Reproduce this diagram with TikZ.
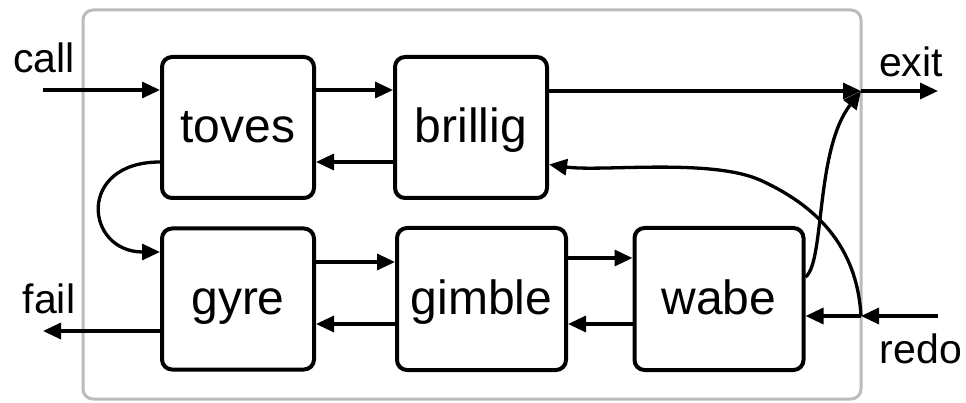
\documentclass[tikz,border=0pt]{standalone}
\usepackage{fontspec}
\setmainfont{Liberation Sans}
\usetikzlibrary{arrows.meta}

\definecolor{framegray}{RGB}{187,187,187}

\tikzset{
  port/.style={line width=3.3pt,-{Triangle[length=18pt,width=16pt]}},
  stage/.style={draw,line width=4pt,rounded corners=10pt,inner sep=0pt,outer sep=2pt,
    minimum width=152pt,minimum height=141pt,
    font=\fontsize{48}{56}\selectfont,text height=30pt,text depth=0pt},
  widestage/.style={stage,minimum width=169pt,minimum height=142pt},
  tag/.style={font=\fontsize{41}{48}\selectfont,anchor=base},
  frame/.style={draw=framegray,line width=3pt,rounded corners=10pt},
}

\begin{document}
\begin{tikzpicture}[x=1pt,y=-1pt]
\useasboundingbox (0,0) rectangle (966,403);

% outer frame:
\draw[frame] (83,10) rectangle (861,399);

% stages:
\path (238,127.5) node[stage] (toves) {toves};
\path (471,127.5) node[stage] (brillig) {brillig};
\path (238,299) node[stage] (gyre) {gyre};
\path (481.5,299) node[widestage] (gimble) {gimble};
\path (719,299) node[widestage] (wabe) {wabe};

% ports:
\coordinate (callin) at (43,90);
\coordinate (failout) at (43,331);
\coordinate (exitpt) at (861,91);
\coordinate (exitout) at (938,91);
\coordinate (redopt) at (861,316);
\coordinate (redoin) at (938,316);

\path (44,73) node[tag] (calltag) {call};
\path (49,313) node[tag] (failtag) {fail};
\path (911,77) node[tag] (exittag) {exit};
\path (921,363) node[tag] (redotag) {redo};

% top row:
\draw[port] (callin) -- (callin -| toves.west);
\draw[port] ([yshift=37.5pt]toves.east) -- ([yshift=37.5pt]brillig.west);
\draw[port] ([yshift=-34.5pt]brillig.west) -- ([yshift=-34.5pt]toves.east);
\draw[port] ([yshift=36.5pt]brillig.east) -- (exitpt);
\draw[port] (exitpt) -- (exitout);
\draw[port] ([yshift=-34.5pt]toves.west) .. controls (76,162) and (85,252) .. ([yshift=47pt]gyre.west);

% bottom row:
\draw[port] (gyre.west |- failout) -- (failout);
\draw[port] ([yshift=37pt]gyre.east) -- ([yshift=37pt]gimble.west);
\draw[port] ([yshift=-25pt]gimble.west) -- ([yshift=-25pt]gyre.east);
\draw[port] ([yshift=41pt]gimble.east) -- ([yshift=41pt]wabe.west);
\draw[port] ([yshift=-25pt]wabe.west) -- ([yshift=-25pt]gimble.east);
\draw[port] (redoin) -- (redopt);
\draw[port] (redopt) -- (redopt -| wabe.east);

% back edges:
\draw[port] ([yshift=22pt]wabe.east) .. controls (825,262) and (815,150) .. (exitpt);
\draw[port] (redopt) .. controls (857,245) and (815,205) .. (760,180)
  .. controls (710,158) and (600,172) .. ([yshift=-37pt]brillig.east);

\end{tikzpicture}
\end{document}
